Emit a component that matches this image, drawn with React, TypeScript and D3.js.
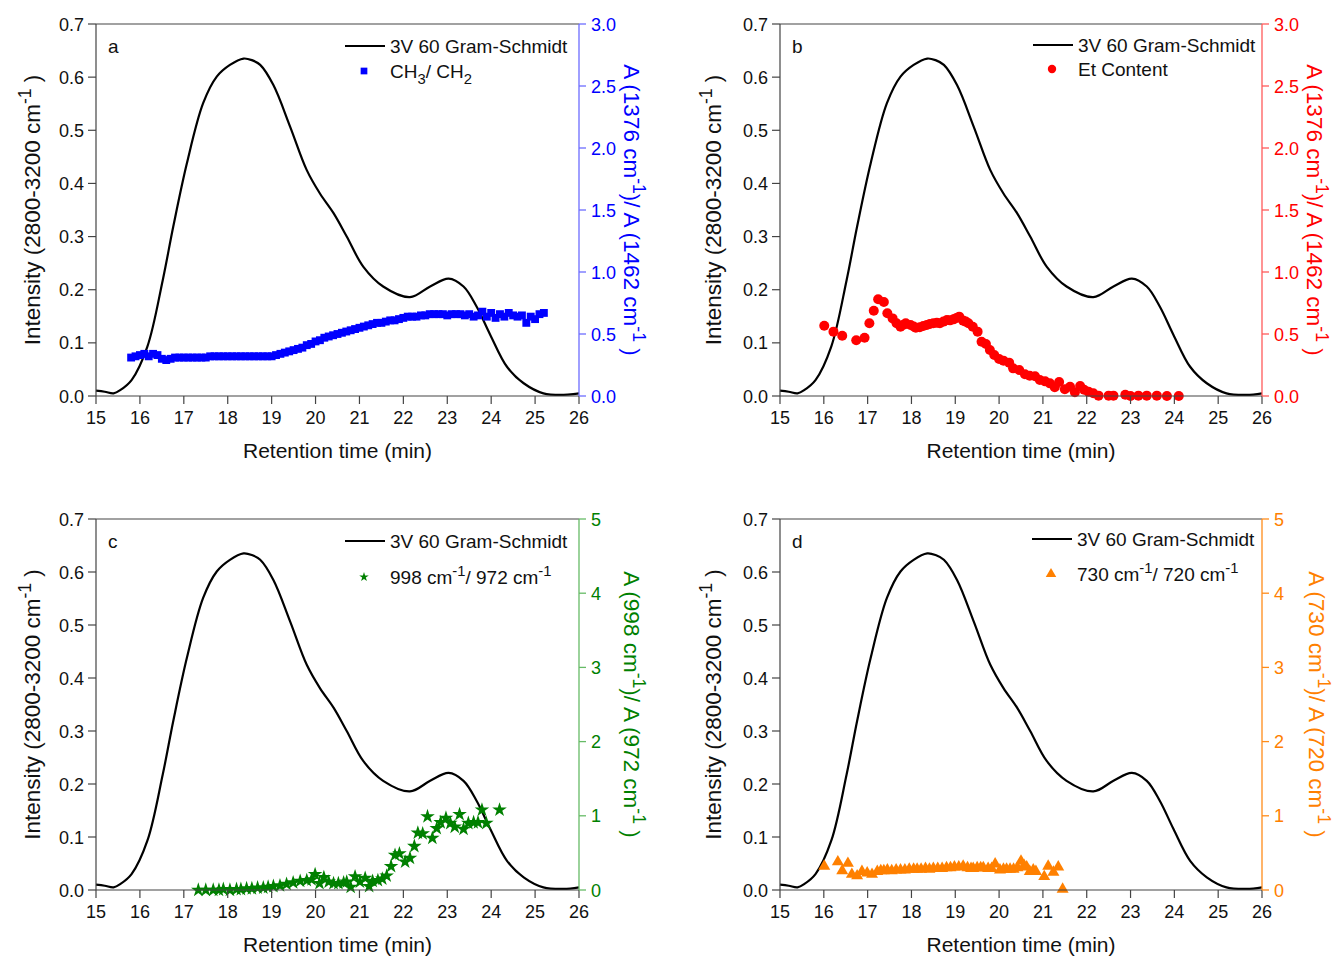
import React from "react";
import * as d3 from "d3";

// ---------- DATA ----------
const GS_T = [15, 15.2, 15.4, 15.55, 15.81, 16.17, 16.52, 16.76, 17.07, 17.44, 17.75, 18.05, 18.36, 18.55, 18.74, 19.04, 19.42, 19.8, 20.1, 20.41, 20.71, 21.09, 21.54, 22.15, 22.61, 23.03, 23.37, 23.67, 23.98, 24.36, 24.74, 25.19, 25.65, 26];
const GS_V = [0.010, 0.008, 0.005, 0.011, 0.030, 0.093, 0.218, 0.319, 0.438, 0.551, 0.601, 0.623, 0.635, 0.632, 0.623, 0.585, 0.507, 0.425, 0.381, 0.344, 0.300, 0.243, 0.206, 0.186, 0.206, 0.221, 0.206, 0.168, 0.115, 0.055, 0.024, 0.005, 0.002, 0.005];

const CH3_CH2: [number, number][] = [
  [15.8, 0.31], [15.9, 0.32], [16.0, 0.33], [16.1, 0.34], [16.2, 0.32], [16.3, 0.34], [16.4, 0.33], [16.5, 0.30],
  [16.6, 0.29], [16.7, 0.30], [16.8, 0.31], [16.9, 0.31], [17.0, 0.31], [17.1, 0.31], [17.2, 0.31], [17.3, 0.31],
  [17.4, 0.31], [17.5, 0.31], [17.6, 0.32], [17.7, 0.32], [17.8, 0.32], [17.9, 0.32], [18.0, 0.32], [18.1, 0.32],
  [18.2, 0.32], [18.3, 0.32], [18.4, 0.32], [18.5, 0.32], [18.6, 0.32], [18.7, 0.32], [18.8, 0.32], [18.9, 0.32],
  [19.0, 0.32], [19.1, 0.33], [19.2, 0.34], [19.3, 0.35], [19.4, 0.36], [19.5, 0.37], [19.6, 0.38], [19.7, 0.39],
  [19.8, 0.41], [19.9, 0.42], [20.0, 0.44], [20.1, 0.45], [20.2, 0.47], [20.3, 0.48], [20.4, 0.49], [20.5, 0.50],
  [20.6, 0.51], [20.7, 0.52], [20.8, 0.53], [20.9, 0.54], [21.0, 0.55], [21.1, 0.56], [21.2, 0.57], [21.3, 0.58],
  [21.4, 0.59], [21.5, 0.59], [21.6, 0.60], [21.7, 0.61], [21.8, 0.61], [21.9, 0.62], [22.0, 0.63], [22.1, 0.64],
  [22.2, 0.64], [22.3, 0.64], [22.4, 0.65], [22.5, 0.65], [22.6, 0.66], [22.7, 0.66], [22.8, 0.66], [22.9, 0.66],
  [23.0, 0.65], [23.1, 0.66], [23.2, 0.66], [23.3, 0.66], [23.4, 0.65], [23.5, 0.66], [23.6, 0.64], [23.7, 0.65],
  [23.8, 0.68], [23.9, 0.64], [24.0, 0.67], [24.1, 0.63], [24.2, 0.66], [24.3, 0.64], [24.4, 0.67], [24.5, 0.65],
  [24.6, 0.64], [24.7, 0.65], [24.8, 0.59], [24.9, 0.64], [25.0, 0.62], [25.1, 0.66], [25.2, 0.67],
];

const ET_CONTENT: [number, number][] = [
  [16.01, 0.567], [16.22, 0.519], [16.42, 0.486], [16.74, 0.449], [16.93, 0.470], [17.04, 0.586], [17.14, 0.688],
  [17.24, 0.780], [17.37, 0.758], [17.45, 0.667], [17.57, 0.626], [17.66, 0.586], [17.75, 0.559], [17.82, 0.575],
  [17.87, 0.586], [17.98, 0.573], [18.05, 0.560], [18.1, 0.551], [18.19, 0.554], [18.27, 0.565], [18.35, 0.573],
  [18.42, 0.580], [18.5, 0.586], [18.58, 0.590], [18.65, 0.586], [18.73, 0.600], [18.81, 0.613], [18.88, 0.610],
  [18.96, 0.618], [19.03, 0.630], [19.09, 0.640], [19.18, 0.608], [19.24, 0.600], [19.30, 0.586], [19.40, 0.559],
  [19.51, 0.519], [19.6, 0.438], [19.7, 0.419], [19.79, 0.371], [19.89, 0.331], [20.0, 0.298], [20.1, 0.285],
  [20.23, 0.269], [20.32, 0.223], [20.46, 0.210], [20.59, 0.175], [20.7, 0.164], [20.82, 0.159], [20.93, 0.129],
  [21.05, 0.118], [21.16, 0.102], [21.27, 0.070], [21.37, 0.113], [21.5, 0.054], [21.62, 0.075], [21.73, 0.030],
  [21.85, 0.080], [21.94, 0.050], [22.04, 0.035], [22.15, 0.022], [22.27, 0.003], [22.5, 0.003], [22.61, 0.003],
  [22.88, 0.010], [23.0, 0.0], [23.18, 0.003], [23.37, 0.003], [23.6, 0.003], [23.83, 0.0], [24.1, 0.0],
];

const RATIO_998_972: [number, number][] = [
  [17.33, 0.0], [17.5, 0.0], [17.67, 0.0], [17.8, 0.0], [17.9, 0.01], [18.05, 0.0], [18.2, 0.01], [18.3, 0.01],
  [18.43, 0.02], [18.55, 0.02], [18.68, 0.03], [18.81, 0.03], [18.92, 0.04], [19.04, 0.05], [19.19, 0.06],
  [19.34, 0.08], [19.49, 0.10], [19.65, 0.12], [19.8, 0.13], [19.91, 0.14], [19.99, 0.21], [20.09, 0.09],
  [20.19, 0.17], [20.3, 0.11], [20.41, 0.09], [20.52, 0.09], [20.64, 0.10], [20.71, 0.11], [20.8, 0.04],
  [20.9, 0.18], [21.01, 0.11], [21.13, 0.16], [21.22, 0.05], [21.3, 0.12], [21.42, 0.13], [21.52, 0.15],
  [21.62, 0.19], [21.72, 0.32], [21.81, 0.47], [21.91, 0.49], [22.04, 0.38], [22.15, 0.43], [22.25, 0.59],
  [22.33, 0.77], [22.44, 0.76], [22.55, 0.99], [22.66, 0.70], [22.76, 0.83], [22.85, 0.91], [22.97, 0.97],
  [23.07, 0.90], [23.17, 0.85], [23.28, 1.02], [23.37, 0.82], [23.48, 0.90], [23.6, 0.91], [23.7, 0.91],
  [23.79, 1.08], [23.89, 0.90], [24.19, 1.08],
];

const RATIO_730_720: [number, number][] = [
  [16.01, 0.32], [16.32, 0.38], [16.42, 0.26], [16.55, 0.36], [16.64, 0.21], [16.76, 0.19], [16.87, 0.25],
  [16.99, 0.23], [17.1, 0.21], [17.22, 0.25], [17.3, 0.26], [17.37, 0.26], [17.45, 0.27], [17.55, 0.26],
  [17.65, 0.27], [17.75, 0.27], [17.85, 0.27], [17.95, 0.28], [18.05, 0.28], [18.13, 0.28], [18.22, 0.28],
  [18.32, 0.29], [18.41, 0.28], [18.5, 0.29], [18.6, 0.29], [18.7, 0.29], [18.8, 0.30], [18.89, 0.30],
  [18.98, 0.31], [19.08, 0.31], [19.18, 0.32], [19.28, 0.30], [19.36, 0.29], [19.41, 0.29], [19.5, 0.30],
  [19.58, 0.30], [19.64, 0.30], [19.75, 0.29], [19.83, 0.29], [19.91, 0.35], [20.02, 0.27], [20.1, 0.28],
  [20.17, 0.28], [20.25, 0.28], [20.33, 0.28], [20.42, 0.30], [20.5, 0.39], [20.57, 0.33], [20.63, 0.31],
  [20.7, 0.25], [20.78, 0.27], [20.84, 0.25], [21.03, 0.18], [21.12, 0.32], [21.24, 0.24], [21.35, 0.31],
  [21.45, 0.01],
];

const X_TICKS = [15, 16, 17, 18, 19, 20, 21, 22, 23, 24, 25, 26];
const LEFT_TICKS = [0, 0.1, 0.2, 0.3, 0.4, 0.5, 0.6, 0.7];
const RIGHT_TICKS_AB = [0, 0.5, 1.0, 1.5, 2.0, 2.5, 3.0];
const RIGHT_TICKS_CD = [0, 1, 2, 3, 4, 5];

// ---------- STYLE ----------
const FONT = "'Liberation Sans', Arial, sans-serif";
const AXIS_GRAY = "#444";
const YTITLE_FS = 22.5;

type Part = { t: string; sup?: boolean; sub?: boolean };

function RichText({ parts, fs }: { parts: Part[]; fs: number }) {
  const out: React.ReactNode[] = [];
  let shift = 0;
  parts.forEach((p, i) => {
    const target = p.sup ? -fs * 0.4 : p.sub ? fs * 0.32 : 0;
    const dy = target - shift;
    shift = target;
    out.push(
      <tspan key={i} dy={dy} fontSize={p.sup || p.sub ? fs * 0.78 : fs}>
        {p.t}
      </tspan>
    );
  });
  return <>{out}</>;
}

type PanelCfg = {
  id: string;
  x0: number; x1: number; y0: number; y1: number;
  rightMax: number; rightTicks: number[]; rightFmt: (v: number) => string;
  color: string; axisColor: string;
  data: [number, number][];
  marker: "square" | "circle" | "star" | "triangle";
  legendLineX: number; legendRow2: number; legendRow1: number;
  legendLabel: Part[];
  rightTitle: Part[];
  leftTitleX: number; rightTitleX: number;
};

const cm = (n: string): Part[] => [{ t: `${n} cm` }, { t: "-1", sup: true }];

const panels: PanelCfg[] = [
  {
    id: "a", x0: 96, x1: 579, y0: 24, y1: 396,
    rightMax: 3, rightTicks: RIGHT_TICKS_AB, rightFmt: d3.format(".1f"),
    color: "#0000ff", axisColor: "#6c6cff", data: CH3_CH2, marker: "square",
    legendLineX: 345, legendRow1: 46, legendRow2: 71,
    legendLabel: [{ t: "CH" }, { t: "3", sub: true }, { t: "/ CH" }, { t: "2", sub: true }],
    rightTitle: [{ t: "A (" }, ...cm("1376"), { t: ")/ A (" }, ...cm("1462"), { t: " )" }],
    leftTitleX: 40, rightTitleX: 624,
  },
  {
    id: "b", x0: 780, x1: 1262, y0: 24, y1: 396,
    rightMax: 3, rightTicks: RIGHT_TICKS_AB, rightFmt: d3.format(".1f"),
    color: "#ff0000", axisColor: "#ff5a5a", data: ET_CONTENT, marker: "circle",
    legendLineX: 1033, legendRow1: 45, legendRow2: 69,
    legendLabel: [{ t: "Et Content" }],
    rightTitle: [{ t: "A (" }, ...cm("1376"), { t: ")/ A (" }, ...cm("1462"), { t: " )" }],
    leftTitleX: 721, rightTitleX: 1307,
  },
  {
    id: "c", x0: 96, x1: 579, y0: 519, y1: 890,
    rightMax: 5, rightTicks: RIGHT_TICKS_CD, rightFmt: d3.format("d"),
    color: "#008000", axisColor: "#66bb66", data: RATIO_998_972, marker: "star",
    legendLineX: 345, legendRow1: 541, legendRow2: 577,
    legendLabel: [...cm("998"), { t: "/ 972 cm" }, { t: "-1", sup: true }],
    rightTitle: [{ t: "A (" }, ...cm("998"), { t: ")/ A (" }, ...cm("972"), { t: " )" }],
    leftTitleX: 40, rightTitleX: 624,
  },
  {
    id: "d", x0: 780, x1: 1262, y0: 519, y1: 890,
    rightMax: 5, rightTicks: RIGHT_TICKS_CD, rightFmt: d3.format("d"),
    color: "#ff8000", axisColor: "#ff8c1a", data: RATIO_730_720, marker: "triangle",
    legendLineX: 1032, legendRow1: 539, legendRow2: 574,
    legendLabel: [...cm("730"), { t: "/ 720 cm" }, { t: "-1", sup: true }],
    rightTitle: [{ t: "A (" }, ...cm("730"), { t: ")/ A (" }, ...cm("720"), { t: " )" }],
    leftTitleX: 721, rightTitleX: 1309,
  },
];

function Marker({ kind, x, y, color, legend }: { kind: string; x: number; y: number; color: string; legend?: boolean }) {
  if (kind === "circle") return <circle cx={x} cy={y} r={legend ? 4.2 : 5} fill={color} />;
  const type = kind === "square" ? d3.symbolSquare : kind === "star" ? d3.symbolStar : d3.symbolTriangle;
  const size = kind === "square" ? (legend ? 45 : 62) : kind === "star" ? (legend ? 28 : 66) : legend ? 48 : 62;
  const path = d3.symbol().type(type).size(size)() || "";
  return <path d={path} transform={`translate(${x},${y})`} fill={color} />;
}

function Panel({ p }: { p: PanelCfg }) {
  const x = d3.scaleLinear().domain([15, 26]).range([p.x0, p.x1]);
  const yL = d3.scaleLinear().domain([0, 0.7]).range([p.y1, p.y0]);
  const yR = d3.scaleLinear().domain([0, p.rightMax]).range([p.y1, p.y0]);
  const gsLine = d3
    .line<number>()
    .x((_, i) => x(GS_T[i]))
    .y((v) => yL(v))
    .curve(d3.curveCatmullRom.alpha(0.5));
  const xMid = (p.x0 + p.x1) / 2;
  const yMid = (p.y0 + p.y1) / 2;
  const fmtL = d3.format(".1f");
  const lx = p.legendLineX;
  return (
    <g fontFamily={FONT}>
      {/* frame top */}
      <line x1={p.x0} x2={p.x1} y1={p.y0} y2={p.y0} stroke={AXIS_GRAY} strokeWidth={1.2} />
      {/* Gram-Schmidt curve */}
      <path d={gsLine(GS_V) || ""} fill="none" stroke="#000" strokeWidth={2.2} />
      {/* scatter */}
      {p.data.map(([t, v], i) => (
        <Marker key={i} kind={p.marker} x={x(t)} y={yR(v)} color={p.color} />
      ))}
      {/* left axis */}
      <line x1={p.x0} x2={p.x0} y1={p.y0} y2={p.y1} stroke={AXIS_GRAY} strokeWidth={1.2} />
      {LEFT_TICKS.map((v) => (
        <g key={v}>
          <line x1={p.x0 - 8} x2={p.x0} y1={yL(v)} y2={yL(v)} stroke={AXIS_GRAY} strokeWidth={1.2} />
          <text x={p.x0 - 12} y={yL(v) + 6.5} textAnchor="end" fontSize={18} fill="#111">
            {fmtL(v)}
          </text>
        </g>
      ))}
      {/* bottom axis */}
      <line x1={p.x0} x2={p.x1} y1={p.y1} y2={p.y1} stroke={AXIS_GRAY} strokeWidth={1.2} />
      {X_TICKS.map((t) => (
        <g key={t}>
          <line x1={x(t)} x2={x(t)} y1={p.y1} y2={p.y1 + 8} stroke={AXIS_GRAY} strokeWidth={1.2} />
          <text x={x(t)} y={p.y1 + 28} textAnchor="middle" fontSize={18} fill="#111">
            {t}
          </text>
        </g>
      ))}
      <text x={xMid} y={p.y1 + 62} textAnchor="middle" fontSize={21} fill="#111">
        Retention time (min)
      </text>
      {/* left title */}
      <text transform={`translate(${p.leftTitleX},${yMid}) rotate(-90)`} textAnchor="middle" fontSize={YTITLE_FS} fill="#111">
        <RichText fs={YTITLE_FS} parts={[{ t: "Intensity (2800-3200 cm" }, { t: "-1", sup: true }, { t: " )" }]} />
      </text>
      {/* right axis */}
      <line x1={p.x1} x2={p.x1} y1={p.y0} y2={p.y1} stroke={p.axisColor} strokeWidth={1.3} />
      {p.rightTicks.map((v) => (
        <g key={v}>
          <line x1={p.x1} x2={p.x1 + 7} y1={yR(v)} y2={yR(v)} stroke={p.axisColor} strokeWidth={1.3} />
          <text x={p.x1 + 12} y={yR(v) + 6.5} textAnchor="start" fontSize={18} fill={p.color}>
            {p.rightFmt(v)}
          </text>
        </g>
      ))}
      <text transform={`translate(${p.rightTitleX},${yMid}) rotate(90)`} textAnchor="middle" fontSize={YTITLE_FS} fill={p.color}>
        <RichText fs={YTITLE_FS} parts={p.rightTitle} />
      </text>
      {/* panel letter */}
      <text x={p.x0 + 12} y={p.y0 + 29} fontSize={19} fill="#111">
        {p.id}
      </text>
      {/* legend */}
      <line x1={lx} x2={lx + 40} y1={p.legendRow1} y2={p.legendRow1} stroke="#000" strokeWidth={2.2} />
      <text x={lx + 45} y={p.legendRow1 + 7} fontSize={19} fill="#111">
        3V 60 Gram-Schmidt
      </text>
      <Marker kind={p.marker} x={lx + 19} y={p.legendRow2} color={p.color} legend />
      <text x={lx + 45} y={p.legendRow2 + 7} fontSize={19} fill="#111">
        <RichText fs={19} parts={p.legendLabel} />
      </text>
    </g>
  );
}

export default function App() {
  return (
    <svg
      width={1334}
      height={957}
      viewBox="0 0 1334 957"
      style={{ position: "absolute", left: 0, top: 0, background: "#fff" }}
    >
      <rect x={0} y={0} width={1334} height={957} fill="#fff" />
      {panels.map((p) => (
        <Panel key={p.id} p={p} />
      ))}
    </svg>
  );
}
